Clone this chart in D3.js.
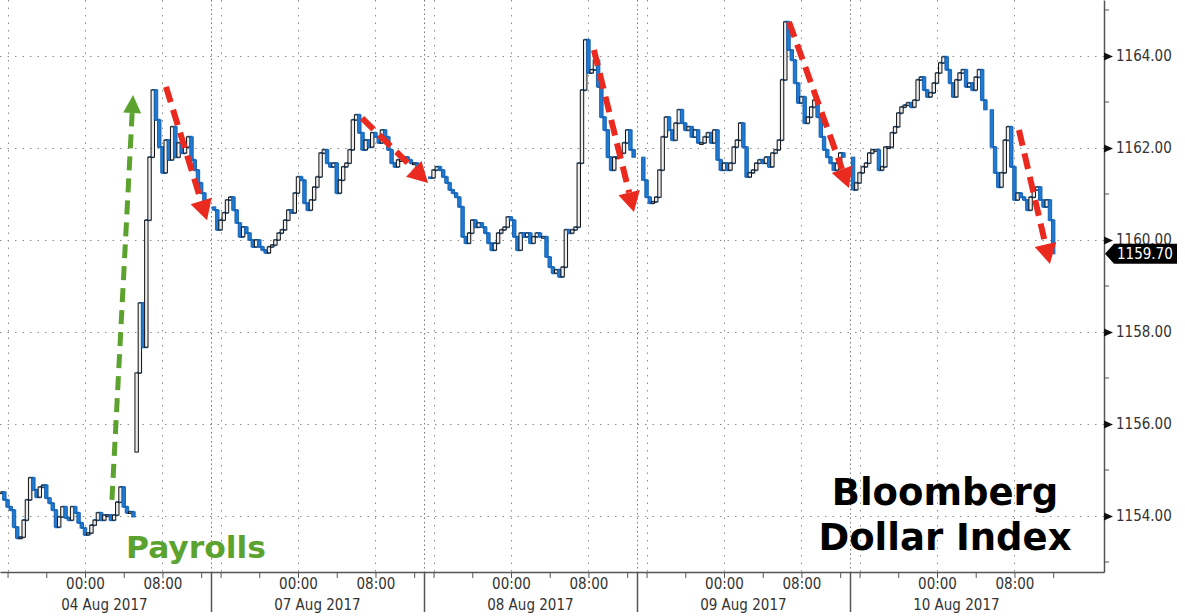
<!DOCTYPE html>
<html>
<head>
<meta charset="utf-8">
<script src="https://cdn.jsdelivr.net/npm/d3@7/dist/d3.min.js"></script>
<style>
  html, body { margin: 0; padding: 0; background: #fff; }
  svg { display: block; }
</style>
</head>
<body>
<svg id="chart" width="1185" height="616"></svg>
<script>
// ---------------- DATA ----------------
const sessions = ["04 Aug 2017", "07 Aug 2017", "08 Aug 2017", "09 Aug 2017", "10 Aug 2017"];
const tickLabels = ["00:00", "08:00"];
const tickLabelClock = [0, 8];
const minorTickClock = [16, 20, 0, 4, 8, 12];
const gridClock = [16, 0, 8];
const yTicks = [1154, 1156, 1158, 1160, 1162, 1164];
const yMinorTicks = [1153, 1155, 1157, 1159, 1161, 1163, 1165];
const lastPrice = 1159.70;

// 20-minute closes
const aug04Pre = [1154.52,1154.35,1154.20,1154.13,1153.76,1153.52,1153.54,1153.91,1154.35,1154.83,
  1154.57,1154.41,1154.63,1154.67,1154.39,1154.28,1154.13,1153.76,1153.98,1154.20,
  1153.96,1153.91,1154.20,1154.07,1153.85,1153.74,1153.59,1153.63,1153.80,1153.91,
  1154.07,1153.91,1154.02,1154.02,1153.91,1154.02,1154.30,1154.63,1154.20,1154.07,
  1154.09,1153.98];
const aug04Post = [1157.11,1158.63,1157.67,1160.43,1161.80,1163.26,1162.61,1162.02,1161.46,1162.17,
  1161.74,1162.46,1161.80,1162.11,1161.89,1162.02,1162.24,1161.74,1161.52,1161.24,
  1161.02,1160.80,1160.72];
const aug07 = [1160.65,1160.22,1160.43,1160.59,1160.87,1160.93,1160.65,1160.37,1160.07,1160.28,
  1160.15,1160.00,1159.85,1160.00,1159.85,1159.78,1159.72,1159.85,1159.89,1160.00,
  1160.15,1160.22,1160.43,1160.65,1160.59,1161.02,1161.37,1161.30,1160.80,1160.65,
  1160.87,1161.15,1161.37,1161.89,1161.96,1161.67,1161.59,1161.67,1161.02,1161.30,
  1161.59,1161.67,1161.96,1162.61,1162.72,1162.33,1161.96,1162.17,1162.02,1162.33,
  1162.24,1162.11,1162.39,1162.24,1161.96,1161.67,1161.59,1161.74,1161.74,1161.80,
  1161.74,1161.67,1161.67,1161.37];
const aug08 = [1161.35,1161.52,1161.59,1161.52,1161.37,1161.24,1161.09,1161.02,1160.93,1160.72,
  1160.07,1159.93,1160.15,1160.43,1160.28,1160.37,1160.28,1160.15,1159.93,1159.78,
  1159.93,1160.15,1160.22,1160.28,1160.50,1160.43,1160.07,1159.78,1160.15,1160.07,
  1160.15,1159.93,1160.07,1160.15,1160.07,1160.07,1159.63,1159.41,1159.28,1159.35,
  1159.20,1159.41,1160.22,1160.15,1160.22,1160.28,1161.67,1163.26,1164.35,1163.63,
  1163.70,1163.91,1163.33,1162.67,1162.39,1161.80,1161.52,1161.80,1161.80,1161.89,
  1162.11,1162.39,1161.96,1161.80];
const aug09 = [1161.30,1160.93,1160.80,1160.83,1160.93,1161.52,1162.24,1162.67,1162.39,1162.17,
  1162.54,1162.83,1162.54,1162.39,1162.46,1162.24,1162.39,1162.11,1162.11,1162.24,
  1162.33,1162.11,1162.39,1161.74,1161.52,1161.67,1161.52,1161.67,1162.02,1162.17,
  1162.54,1162.02,1161.37,1161.46,1161.52,1161.67,1161.74,1161.67,1161.80,1161.59,
  1161.89,1161.96,1162.17,1163.48,1164.74,1164.13,1163.91,1163.41,1162.98,1163.11,
  1162.54,1162.67,1162.89,1163.04,1162.67,1162.24,1161.96,1161.80,1161.67,1161.52,
  1161.67,1161.89,1161.80];
const aug10Early = [1161.09,1161.24,1161.46,1161.59,1161.67,1161.89,1161.96,1161.96,1161.52,1161.59,
  1162.02,1162.02,1162.33,1162.46,1162.76,1162.89,1162.93,1162.98,1162.89,1163.04,
  1163.48,1163.54,1163.26,1163.11,1163.20,1163.41,1163.63,1163.85,1163.98,1163.70,
  1163.41,1163.11,1163.48,1163.63,1163.70,1163.33,1163.41,1163.26,1163.54,1163.70,
  1163.04,1162.83];
const aug10Late = [1162.02,1161.46,1161.15,1161.46,1162.17,1162.46,1161.59,1160.87,1161.02,1160.93,
  1160.87,1160.65,1160.93,1161.09,1161.15,1160.87,1160.72,1160.87,1160.43,1159.70];

const runSeries = [aug04Pre, aug04Post, aug07, aug08, aug09, aug10Early, aug10Late];
const runSession = [0, 0, 1, 2, 3, 4, 4];
const runStart = ["15:20", "05:20", "15:20", "15:40", "15:40", "15:20", "05:40"];
const runOpen = [1154.52, 1155.39, 1160.72, 1161.37, 1161.80, 1161.80, 1162.83];

// annotations: [session, clock, value] start -> end
const payrollArrow = [[0, "02:47", 1154.35], [0, "04:58", 1163.15]];
const dropArrows = [
  [[0, "08:22", 1163.33], [0, "12:36", 1160.43]],
  [[1, "06:37", 1162.65], [1, "13:26", 1161.24]],
  [[2, "08:34", 1164.13], [2, "12:42", 1160.61]],
  [[3, "06:43", 1164.74], [3, "12:54", 1161.13]],
  [[4, "08:28", 1162.39], [4, "11:40", 1159.48]]
];
const payrollLabel = "Payrolls";
const titleLines = ["Bloomberg", "Dollar Index"];

// ---------------- HELPERS ----------------
const SESSION_HOURS = 22;   // 15:00 previous day -> 13:00
function sessionHour(s, hhmm) {
  const [hh, mm] = hhmm.split(":").map(Number);
  const t = hh + mm / 60;
  return s * SESSION_HOURS + (t >= 15 ? t - 15 : t + 9);
}
function clockToSessionHour(s, c) { return s * SESSION_HOURS + (c >= 15 ? c - 15 : c + 9); }

const W = 1185, H = 616;
const plotR = 1104, plotB = 572;

const x = d3.scaleLinear().domain([0.22, 114.25]).range([0, plotR]);
const y = d3.scaleLinear().domain([1152.783, 1165.217]).range([plotB, 0]);

const svg = d3.select("#chart");
svg.append("rect").attr("width", W).attr("height", H).attr("fill", "#fff");

svg.append("defs").append("clipPath").attr("id", "plotClip")
  .append("rect").attr("x", 0).attr("y", 0).attr("width", plotR).attr("height", plotB);

const grid = svg.append("g");
grid.selectAll("line.h").data(yTicks).join("line")
  .attr("x1", 0).attr("x2", plotR)
  .attr("y1", d => Math.round(y(d)) + 0.5).attr("y2", d => Math.round(y(d)) + 0.5)
  .attr("stroke", "#8c8c8c").attr("stroke-width", 1).attr("stroke-dasharray", "1.5,6");
const vGrid = [];
sessions.forEach((s, i) => gridClock.forEach(c => vGrid.push(clockToSessionHour(i, c))));
grid.selectAll("line.v").data(vGrid).join("line")
  .attr("x1", d => Math.round(x(d)) + 0.5).attr("x2", d => Math.round(x(d)) + 0.5)
  .attr("y1", 0).attr("y2", plotB)
  .attr("stroke", "#8c8c8c").attr("stroke-width", 1).attr("stroke-dasharray", "1.5,6");
const seps = d3.range(1, sessions.length).map(i => i * SESSION_HOURS);
grid.selectAll("line.sep").data(seps).join("line")
  .attr("x1", d => Math.round(x(d)) + 0.5).attr("x2", d => Math.round(x(d)) + 0.5)
  .attr("y1", 0).attr("y2", plotB)
  .attr("stroke", "#777").attr("stroke-width", 1).attr("stroke-dasharray", "1.5,3");

// ---------------- PRICE ----------------
const plot = svg.append("g").attr("clip-path", "url(#plotClip)");
const BLUE = "#1f7ad4";
const line = d3.line().x(d => x(d.h)).y(d => y(d.c)).curve(d3.curveStepAfter);
const candles = [];
runSeries.forEach((vals, r) => {
  const h0 = sessionHour(runSession[r], runStart[r]);
  const pts = vals.map((c, j) => ({ h: h0 + j / 3, c, o: j === 0 ? runOpen[r] : vals[j - 1] }));
  plot.append("path").datum(pts).attr("d", line)
    .attr("fill", "none").attr("stroke", BLUE).attr("stroke-width", 2.2);
  pts.forEach(p => candles.push(p));
});
const cw = 3.4;
plot.selectAll("rect.candle").data(candles).join("rect")
  .attr("x", d => x(d.h) - cw / 2)
  .attr("width", cw)
  .attr("y", d => y(Math.max(d.o, d.c)))
  .attr("height", d => Math.max(1.5, Math.abs(y(d.o) - y(d.c))))
  .attr("fill", d => d.c >= d.o ? "#eeeeee" : BLUE)
  .attr("stroke", d => d.c >= d.o ? "#111" : "#1862b0")
  .attr("stroke-width", 1);

// ---------------- AXES ----------------
const axisColor = "#555";
const minorHours = [];
sessions.forEach((s, i) => minorTickClock.forEach(c => minorHours.push(clockToSessionHour(i, c))));
const xAxis = d3.axisBottom(x).tickValues(minorHours).tickSize(6).tickSizeOuter(0)
  .tickFormat(h => {
    const c = Math.round(((h % SESSION_HOURS) + 15) % 24);
    const k = tickLabelClock.indexOf(c);
    return k >= 0 ? tickLabels[k] : "";
  });
const gx = svg.append("g").attr("transform", `translate(0,${plotB})`).call(xAxis);
gx.select(".domain").attr("stroke", axisColor).attr("stroke-width", 1.5);
gx.selectAll(".tick line").attr("stroke", axisColor);
gx.selectAll(".tick text").attr("font-family", "'DejaVu Sans Condensed','DejaVu Sans',sans-serif")
  .attr("font-size", 15).attr("fill", "#333").attr("dy", "0.55em").attr("y", 9);
svg.selectAll("line.sepb").data(seps).join("line")
  .attr("x1", d => Math.round(x(d)) + 0.5).attr("x2", d => Math.round(x(d)) + 0.5)
  .attr("y1", plotB).attr("y2", 612).attr("stroke", axisColor).attr("stroke-width", 1.5);
svg.selectAll("text.date").data(sessions).join("text")
  .attr("x", (d, i) => x(i * SESSION_HOURS + SESSION_HOURS / 2))
  .attr("y", 610).attr("text-anchor", "middle")
  .attr("font-family", "'DejaVu Sans Condensed','DejaVu Sans',sans-serif")
  .attr("font-size", 15).attr("fill", "#333").text(d => d);

const yAxis = d3.axisRight(y).tickValues(yTicks).tickSize(0).tickSizeOuter(0).tickPadding(12)
  .tickFormat(d3.format(".2f"));
const gy = svg.append("g").attr("transform", `translate(${plotR},0)`).call(yAxis);
gy.select(".domain").attr("stroke", axisColor).attr("stroke-width", 1.5);
gy.selectAll(".tick text").attr("font-family", "'DejaVu Sans Condensed','DejaVu Sans',sans-serif")
  .attr("font-size", 15).attr("fill", "#333");
gy.selectAll(".tick").append("path").attr("d", "M0,-4L9,0L0,4Z").attr("fill", "#111");
svg.selectAll("line.ymin").data(yMinorTicks).join("line")
  .attr("x1", plotR).attr("x2", plotR + 5)
  .attr("y1", d => y(d)).attr("y2", d => y(d)).attr("stroke", axisColor);

const ly = y(lastPrice);
const tag = svg.append("g").attr("transform", `translate(${plotR + 1},${ly})`);
tag.append("path").attr("d", "M0,0L9,-10L72,-10L72,10L9,10Z").attr("fill", "#000");
tag.append("text").attr("x", 12).attr("y", 0).attr("dy", "0.36em")
  .attr("font-family", "'DejaVu Sans Condensed','DejaVu Sans',sans-serif")
  .attr("font-size", 15).attr("fill", "#fff").text(d3.format(".2f")(lastPrice));

// ---------------- ANNOTATIONS ----------------
function arrow(g, a, b, color, width, dash, headLen, headW) {
  const x1 = x(sessionHour(a[0], a[1])), y1 = y(a[2]);
  const x2 = x(sessionHour(b[0], b[1])), y2 = y(b[2]);
  const ang = Math.atan2(y2 - y1, x2 - x1);
  const bx = x2 - Math.cos(ang) * headLen, by = y2 - Math.sin(ang) * headLen;
  g.append("line").attr("x1", x1).attr("y1", y1).attr("x2", bx).attr("y2", by)
    .attr("stroke", color).attr("stroke-width", width).attr("stroke-dasharray", dash);
  const px = -Math.sin(ang) * headW / 2, py = Math.cos(ang) * headW / 2;
  g.append("path")
    .attr("d", `M${x2},${y2}L${bx + px},${by + py}L${bx - px},${by - py}Z`)
    .attr("fill", color);
}
const ann = svg.append("g");
arrow(ann, payrollArrow[0], payrollArrow[1], "#5ca22e", 5, "14,8", 18, 18);
dropArrows.forEach(d => arrow(ann, d[0], d[1], "#ea2a1f", 6, "16,8", 20, 22));

ann.append("text").attr("x", 126).attr("y", 558)
  .attr("font-family", "'DejaVu Sans',sans-serif").attr("font-weight", "bold")
  .attr("font-size", 30).attr("textLength", 140).attr("lengthAdjust", "spacingAndGlyphs")
  .attr("fill", "#5ca22e").text(payrollLabel);

ann.selectAll("text.title").data(titleLines).join("text")
  .attr("x", 945).attr("y", (d, i) => 505 + i * 45)
  .attr("text-anchor", "middle")
  .attr("font-family", "'DejaVu Sans',sans-serif").attr("font-weight", "bold")
  .attr("font-size", 37).attr("fill", "#000").text(d => d);
</script>
</body>
</html>
